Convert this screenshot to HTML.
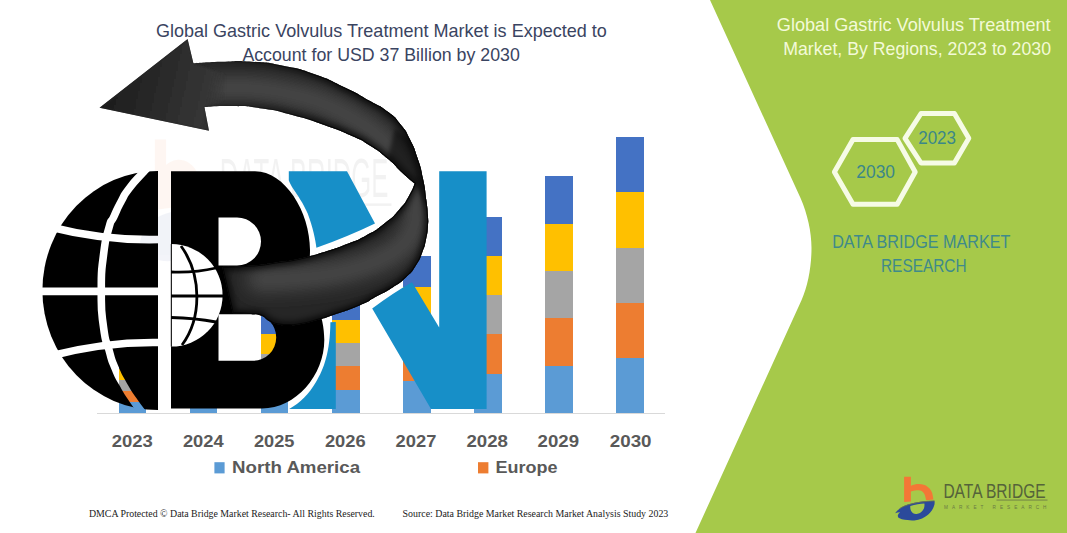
<!DOCTYPE html>
<html lang="en">
<head>
<meta charset="utf-8">
<title>Global Gastric Volvulus Treatment Market</title>
<style>
  html, body { margin: 0; padding: 0; background: #ffffff; }
  body { width: 1067px; height: 533px; overflow: hidden; position: relative; }
  svg { position: absolute; left: 0; top: 0; display: block; }
  .sans { font-family: "Liberation Sans", sans-serif; }
  .serif { font-family: "Liberation Serif", serif; }
</style>
</head>
<body>
<svg width="1067" height="533" viewBox="0 0 1067 533">
  <defs>
    <linearGradient id="arrowGrad" x1="0" y1="0" x2="1" y2="1">
      <stop offset="0" stop-color="#111"/>
      <stop offset="0.5" stop-color="#3c3c3c"/>
      <stop offset="1" stop-color="#0a0a0a"/>
    </linearGradient>
  </defs>

  <!-- ============ GREEN PANEL ============ -->
  <g id="panel">
    <path d="M710,0 L800.5,198 C807.5,214 811.5,232 811.5,248 C811.5,266 808,286 801.6,300 L695.5,533 L1067,533 L1067,0 Z" fill="#a6c94a"/>
  </g>

  <!-- ============ CHART BARS ============ -->
  <g id="bars" shape-rendering="crispEdges">
    <!-- 2023 -->
    <rect x="118.5" y="401.5" width="27.7" height="11.3" fill="#5b9bd5"/>
    <rect x="118.5" y="390.5" width="27.7" height="11.3" fill="#ed7d31"/>
    <rect x="118.5" y="379.5" width="27.7" height="11.3" fill="#a5a5a5"/>
    <rect x="118.5" y="368.5" width="27.7" height="11.3" fill="#ffc000"/>
    <rect x="118.5" y="357.5" width="27.7" height="11.3" fill="#4472c4"/>
    <!-- 2024 -->
    <rect x="189.6" y="397.3" width="27.7" height="15.5" fill="#5b9bd5"/>
    <rect x="189.6" y="382.1" width="27.7" height="15.5" fill="#ed7d31"/>
    <rect x="189.6" y="366.9" width="27.7" height="15.5" fill="#a5a5a5"/>
    <rect x="189.6" y="351.7" width="27.7" height="15.5" fill="#ffc000"/>
    <rect x="189.6" y="336.5" width="27.7" height="15.5" fill="#4472c4"/>
    <!-- 2025 -->
    <rect x="260.7" y="392.9" width="27.7" height="19.9" fill="#5b9bd5"/>
    <rect x="260.7" y="373.3" width="27.7" height="19.9" fill="#ed7d31"/>
    <rect x="260.7" y="353.7" width="27.7" height="19.9" fill="#a5a5a5"/>
    <rect x="260.7" y="334.1" width="27.7" height="19.9" fill="#ffc000"/>
    <rect x="260.7" y="314.5" width="27.7" height="19.9" fill="#4472c4"/>
    <!-- 2026 -->
    <rect x="331.8" y="389.3" width="27.7" height="23.5" fill="#5b9bd5"/>
    <rect x="331.8" y="366.1" width="27.7" height="23.5" fill="#ed7d31"/>
    <rect x="331.8" y="342.9" width="27.7" height="23.5" fill="#a5a5a5"/>
    <rect x="331.8" y="319.7" width="27.7" height="23.5" fill="#ffc000"/>
    <rect x="331.8" y="296.5" width="27.7" height="23.5" fill="#4472c4"/>
    <!-- 2027 -->
    <rect x="402.9" y="381.1" width="27.7" height="31.7" fill="#5b9bd5"/>
    <rect x="402.9" y="349.7" width="27.7" height="31.7" fill="#ed7d31"/>
    <rect x="402.9" y="318.3" width="27.7" height="31.7" fill="#a5a5a5"/>
    <rect x="402.9" y="286.9" width="27.7" height="31.7" fill="#ffc000"/>
    <rect x="402.9" y="255.5" width="27.7" height="31.7" fill="#4472c4"/>
    <!-- 2028 -->
    <rect x="474.0" y="373.3" width="27.7" height="39.5" fill="#5b9bd5"/>
    <rect x="474.0" y="334.1" width="27.7" height="39.5" fill="#ed7d31"/>
    <rect x="474.0" y="294.9" width="27.7" height="39.5" fill="#a5a5a5"/>
    <rect x="474.0" y="255.7" width="27.7" height="39.5" fill="#ffc000"/>
    <rect x="474.0" y="216.5" width="27.7" height="39.5" fill="#4472c4"/>
    <!-- 2029 -->
    <rect x="545.1" y="365.2" width="27.7" height="47.6" fill="#5b9bd5"/>
    <rect x="545.1" y="317.9" width="27.7" height="47.6" fill="#ed7d31"/>
    <rect x="545.1" y="270.6" width="27.7" height="47.6" fill="#a5a5a5"/>
    <rect x="545.1" y="223.3" width="27.7" height="47.6" fill="#ffc000"/>
    <rect x="545.1" y="176.0" width="27.7" height="47.6" fill="#4472c4"/>
    <!-- 2030 -->
    <rect x="616.2" y="357.4" width="27.7" height="55.4" fill="#5b9bd5"/>
    <rect x="616.2" y="302.3" width="27.7" height="55.4" fill="#ed7d31"/>
    <rect x="616.2" y="247.2" width="27.7" height="55.4" fill="#a5a5a5"/>
    <rect x="616.2" y="192.1" width="27.7" height="55.4" fill="#ffc000"/>
    <rect x="616.2" y="137.0" width="27.7" height="55.4" fill="#4472c4"/>
    <!-- axis -->
    <rect x="97" y="412.5" width="568" height="1" fill="#d9d9d9"/>
  </g>

  <!-- ============ WATERMARK (faint brand) ============ -->
  <g id="watermark" opacity="0.06" transform="translate(-1336.9,-1195.5) scale(1.65,2.8)">
    <path d="M904.1,476.8 L910.9,476.8 L910.9,485.8 C914,484.4 916.5,484 918.8,484 C927,484 932.8,489.5 932.8,496 L933,499.6 L904.1,502 Z" fill="#f37736"/>
    <path d="M895,513.3 C897,508.5 903,504.8 910,503.4 C918,501.8 927,501 934.5,501 C935,506 933,510 930,512.8 C927.5,515.6 925,517.4 922,518.4 C917,520.3 912,520.6 907.5,520 C903.5,519.6 900.5,519 898.5,518.4 Z" fill="#2b4a9b"/>
    <text x="943.4" y="497.4" textLength="102.2" lengthAdjust="spacingAndGlyphs" font-family="'Liberation Sans', sans-serif" font-size="19.5" fill="#333">DATA BRIDGE</text>
    <rect x="996.5" y="499.6" width="51" height="0.9" fill="#333"/>
  </g>

  <!-- ============ LOGO OVERLAY ============ -->
  <g id="logo">
    <defs>
      <linearGradient id="fadeIn" gradientUnits="userSpaceOnUse" x1="200" y1="0" x2="340" y2="0"><stop offset="0" stop-color="#000"/><stop offset="1" stop-color="#fff"/></linearGradient>
      <mask id="noHead" maskUnits="userSpaceOnUse" x="0" y="0" width="1067" height="533"><rect x="0" y="0" width="1067" height="533" fill="#000"/><rect x="200" y="0" width="400" height="200" fill="url(#fadeIn)"/><rect x="200" y="200" width="400" height="333" fill="#fff"/></mask>
      <linearGradient id="headGrad" gradientUnits="userSpaceOnUse" x1="120" y1="75" x2="228" y2="100"><stop offset="0" stop-color="#1f1f1f"/><stop offset="0.8" stop-color="#353535"/><stop offset="1" stop-color="#353535" stop-opacity="0"/></linearGradient>
      <clipPath id="arrowClip"><path d="M99.5,107.7 L187.6,38.9 L193.4,63.2 C201.7,62.8 201.5,62.2 221.0,61.7 C240.5,61.2 231.3,60.3 252.0,61.7 C272.7,63.1 262.4,61.7 283.0,65.8 C303.6,69.9 293.3,66.8 313.9,74.0 C334.5,81.2 326.4,78.7 344.8,87.5 C363.2,96.3 354.8,92.5 369.0,100.5 C383.2,108.5 377.0,103.5 387.5,111.5 C398.0,119.5 393.1,115.1 400.6,124.4 C408.1,133.7 404.4,128.2 410.0,139.4 C415.6,150.6 413.2,144.9 417.5,158.0 C421.8,171.1 420.1,164.8 423.0,178.8 C425.9,192.8 424.7,187.9 426.3,200.0 C427.9,212.1 427.4,206.2 427.9,215.0 C428.4,223.8 428.5,218.2 427.9,226.3 C427.3,234.4 427.9,230.7 426.0,239.4 C424.1,248.1 425.6,243.7 422.2,252.5 C418.8,261.3 421.0,257.5 415.7,265.7 C410.4,273.9 413.9,269.8 406.3,277.0 C398.7,284.2 403.0,280.7 393.0,287.2 C383.0,293.7 387.5,290.5 376.3,296.6 C365.1,302.7 374.1,299.3 359.5,305.5 C344.9,311.7 345.4,310.8 332.5,315.2 C319.6,319.8 331.6,316.0 320.8,319.0 C309.9,322.0 311.0,322.3 300.0,324.3 C289.0,326.3 295.2,325.1 287.7,325.1 C280.2,325.1 283.7,325.7 277.5,324.3 C271.3,322.9 274.6,324.0 269.0,321.0 C263.4,318.0 267.0,317.6 260.7,315.3 C254.4,313.0 259.3,314.7 250.0,314.0 C240.7,313.3 238.0,313.5 232.8,313.3 L222.2,266.9 C231.2,266.5 233.8,267.1 252.2,265.5 C270.6,263.9 261.6,264.5 277.5,262.2 C293.4,259.9 283.2,262.3 300.0,258.5 C316.8,254.7 312.3,255.5 328.0,250.7 C343.7,245.9 334.4,249.0 347.0,244.0 C359.6,239.0 353.2,242.5 365.7,235.7 C378.2,228.9 373.2,232.3 384.4,223.5 C395.6,214.7 391.3,218.5 399.4,209.4 C407.5,200.3 403.7,204.9 408.8,196.3 C413.9,187.7 413.0,187.4 414.8,183.6 C411.1,180.4 411.6,181.4 402.5,173.0 C393.4,164.6 398.7,167.8 387.5,158.5 C376.3,149.2 380.8,152.5 369.0,145.0 C357.2,137.5 366.9,142.7 352.0,136.0 C337.1,129.3 343.8,131.9 324.2,125.0 C304.6,118.1 313.8,120.8 293.2,115.3 C272.6,109.8 282.9,111.6 262.3,108.5 C241.7,105.4 250.6,106.5 231.3,106.0 C212.0,105.5 212.5,106.7 204.4,107.0 L209.0,130.7 L99.5,107.7 Z"/></clipPath>
      <filter id="blur8" x="-20%" y="-20%" width="140%" height="140%"><feGaussianBlur stdDeviation="9"/></filter>
      <filter id="blur1" x="-20%" y="-20%" width="140%" height="140%"><feGaussianBlur stdDeviation="1.2"/></filter>
      <filter id="blur2" x="-30%" y="-30%" width="160%" height="160%"><feGaussianBlur stdDeviation="2"/></filter>
      <filter id="blur3" x="-20%" y="-20%" width="140%" height="140%"><feGaussianBlur stdDeviation="3"/></filter>
      <mask id="globeMask" maskUnits="userSpaceOnUse" x="0" y="0" width="1067" height="533">
        <rect x="0" y="0" width="158" height="533" fill="#fff"/>
        <g fill="none" stroke="#000" stroke-width="7.6">
          <path d="M30,291.4 L160,291.4"/>
          <path d="M50,227 Q105,241 160,239.5"/>
          <path d="M50,356 Q105,341.5 160,342.5"/>
          <path d="M148.0,167.5 C146.1,169.5 148.4,166.6 142.2,173.5 C136.0,180.4 136.2,179.0 129.3,188.2 C122.4,197.4 126.5,191.6 121.4,201.0 C116.3,210.4 118.2,207.2 114.0,216.3 C109.8,225.4 112.3,215.4 108.8,228.3 C105.3,241.2 106.0,234.1 103.5,255.0 C101.0,275.9 101.3,267.0 101.3,291.0 C101.3,315.0 100.9,307.3 103.5,327.0 C106.1,346.7 105.2,336.3 109.0,350.0 C112.8,363.7 110.3,356.7 115.0,368.0 C119.7,379.3 117.0,373.3 123.0,384.0 C129.0,394.7 126.2,390.0 133.0,400.0 C139.8,410.0 140.0,409.3 143.5,414.0" stroke-width="7.6"/>
        </g>
      </mask>
    </defs>
    <!-- N -->
    <path d="M288.8,171.3 L347,171.3 L375,223.5 Q347,237 316.4,247.8 C315.5,240 313,228 307.7,213.6 C304,205 300,199 297.4,195 C293,189 290,184 288.8,180.6 Z M330.4,322.3 L335.8,322 L335.8,409 L289.2,409 C300,403 309,394 316,382 C324,369 330,352 330.4,322.3 Z M372.2,308.5 Q392,293.5 412,282.2 L439.2,327.5 L439.2,171.2 L486.6,171.2 L486.6,409 L431,409 Z" fill="#178fc8"/>
    <!-- half globe -->
    <ellipse cx="158" cy="290.5" rx="115.6" ry="119.5" fill="#000" mask="url(#globeMask)"/>
    <!-- B -->
    <path d="M171,171.3 L255,171.3 C285,171.3 310,212 310,250 C310,268 306,280 300,287 C314,293 324.3,315 324.3,340 C324.3,375 296,408.5 262,408.5 L171,408.5 Z M218.5,217.5 L237,217.5 A24,24 0 0 1 237,265.5 L218.5,265.5 Z M218.5,314.3 L253,314.3 A23.2,23.2 0 0 1 253,360.7 L218.5,360.7 Z" fill="#000" fill-rule="evenodd"/>
    <!-- small globe -->
    <g>
      <path d="M171.3,244 A51.3,51.3 0 0 1 171.3,346.6 Z" fill="#fff"/>
      <g fill="none" stroke="#000" stroke-width="2.8">
        <path d="M171,296 L224,296"/>
        <path d="M171,272 Q195,273 216,268"/>
        <path d="M171,317.5 Q195,318 216,322"/>
        <path d="M181,246 C202,275 202,318 182,345"/>
        <path d="M171.3,244 L171.3,346.6" stroke-width="1"/>
      </g>
    </g>
    <!-- arrow -->
    <path d="M99.5,107.7 L187.6,38.9 L193.4,63.2 C201.7,62.8 201.5,62.2 221.0,61.7 C240.5,61.2 231.3,60.3 252.0,61.7 C272.7,63.1 262.4,61.7 283.0,65.8 C303.6,69.9 293.3,66.8 313.9,74.0 C334.5,81.2 326.4,78.7 344.8,87.5 C363.2,96.3 354.8,92.5 369.0,100.5 C383.2,108.5 377.0,103.5 387.5,111.5 C398.0,119.5 393.1,115.1 400.6,124.4 C408.1,133.7 404.4,128.2 410.0,139.4 C415.6,150.6 413.2,144.9 417.5,158.0 C421.8,171.1 420.1,164.8 423.0,178.8 C425.9,192.8 424.7,187.9 426.3,200.0 C427.9,212.1 427.4,206.2 427.9,215.0 C428.4,223.8 428.5,218.2 427.9,226.3 C427.3,234.4 427.9,230.7 426.0,239.4 C424.1,248.1 425.6,243.7 422.2,252.5 C418.8,261.3 421.0,257.5 415.7,265.7 C410.4,273.9 413.9,269.8 406.3,277.0 C398.7,284.2 403.0,280.7 393.0,287.2 C383.0,293.7 387.5,290.5 376.3,296.6 C365.1,302.7 374.1,299.3 359.5,305.5 C344.9,311.7 345.4,310.8 332.5,315.2 C319.6,319.8 331.6,316.0 320.8,319.0 C309.9,322.0 311.0,322.3 300.0,324.3 C289.0,326.3 295.2,325.1 287.7,325.1 C280.2,325.1 283.7,325.7 277.5,324.3 C271.3,322.9 274.6,324.0 269.0,321.0 C263.4,318.0 267.0,317.6 260.7,315.3 C254.4,313.0 259.3,314.7 250.0,314.0 C240.7,313.3 238.0,313.5 232.8,313.3 L222.2,266.9 C231.2,266.5 233.8,267.1 252.2,265.5 C270.6,263.9 261.6,264.5 277.5,262.2 C293.4,259.9 283.2,262.3 300.0,258.5 C316.8,254.7 312.3,255.5 328.0,250.7 C343.7,245.9 334.4,249.0 347.0,244.0 C359.6,239.0 353.2,242.5 365.7,235.7 C378.2,228.9 373.2,232.3 384.4,223.5 C395.6,214.7 391.3,218.5 399.4,209.4 C407.5,200.3 403.7,204.9 408.8,196.3 C413.9,187.7 413.0,187.4 414.8,183.6 C411.1,180.4 411.6,181.4 402.5,173.0 C393.4,164.6 398.7,167.8 387.5,158.5 C376.3,149.2 380.8,152.5 369.0,145.0 C357.2,137.5 366.9,142.7 352.0,136.0 C337.1,129.3 343.8,131.9 324.2,125.0 C304.6,118.1 313.8,120.8 293.2,115.3 C272.6,109.8 282.9,111.6 262.3,108.5 C241.7,105.4 250.6,106.5 231.3,106.0 C212.0,105.5 212.5,106.7 204.4,107.0 L209.0,130.7 L99.5,107.7 Z" fill="#262626"/>
    <g clip-path="url(#arrowClip)">
      <path d="M205.0,88.0 C213.3,88.0 212.0,87.7 230.0,88.0 C248.0,88.3 236.3,86.3 259.0,89.0 C281.7,91.7 275.7,90.7 298.0,96.0 C320.3,101.3 307.3,97.3 326.0,105.0 C344.7,112.7 336.0,108.3 354.0,119.0 C372.0,129.7 365.7,125.0 380.0,137.0 C394.3,149.0 387.3,142.7 397.0,155.0 C406.7,167.3 402.7,160.3 409.0,174.0 C415.3,187.7 413.7,180.7 416.0,196.0 C418.3,211.3 418.3,206.0 416.0,220.0 C413.7,234.0 415.7,227.7 409.0,238.0 C402.3,248.3 406.7,243.3 396.0,251.0 C385.3,258.7 391.3,255.0 377.0,261.0 C362.7,267.0 368.7,264.7 353.0,269.0 C337.3,273.3 345.7,271.3 330.0,274.0 C314.3,276.7 322.7,275.3 306.0,277.0 C289.3,278.7 296.0,278.0 280.0,279.0 C264.0,280.0 265.3,279.7 258.0,280.0" fill="none" stroke="#494949" stroke-width="24" stroke-linecap="round" stroke-linejoin="round" filter="url(#blur8)"/>
      <path d="M395,128 L410,139.4 L417.5,158 L423,178.8 L426.3,200 L428.5,214 C424,202 420,192 414.8,183.6 L402.5,173 L387.5,158.5 Z" fill="#000" opacity="0.5" filter="url(#blur2)"/>
      <path d="M99.5,107.7 L187.6,38.9 L193.4,63.2 C201.7,62.8 201.5,62.2 221.0,61.7 C240.5,61.2 231.3,60.3 252.0,61.7 C272.7,63.1 262.4,61.7 283.0,65.8 C303.6,69.9 293.3,66.8 313.9,74.0 C334.5,81.2 326.4,78.7 344.8,87.5 C363.2,96.3 354.8,92.5 369.0,100.5 C383.2,108.5 377.0,103.5 387.5,111.5 C398.0,119.5 393.1,115.1 400.6,124.4 C408.1,133.7 404.4,128.2 410.0,139.4 C415.6,150.6 413.2,144.9 417.5,158.0 C421.8,171.1 420.1,164.8 423.0,178.8 C425.9,192.8 424.7,187.9 426.3,200.0 C427.9,212.1 427.4,206.2 427.9,215.0 C428.4,223.8 428.5,218.2 427.9,226.3 C427.3,234.4 427.9,230.7 426.0,239.4 C424.1,248.1 425.6,243.7 422.2,252.5 C418.8,261.3 421.0,257.5 415.7,265.7 C410.4,273.9 413.9,269.8 406.3,277.0 C398.7,284.2 403.0,280.7 393.0,287.2 C383.0,293.7 387.5,290.5 376.3,296.6 C365.1,302.7 374.1,299.3 359.5,305.5 C344.9,311.7 345.4,310.8 332.5,315.2 C319.6,319.8 331.6,316.0 320.8,319.0 C309.9,322.0 311.0,322.3 300.0,324.3 C289.0,326.3 295.2,325.1 287.7,325.1 C280.2,325.1 283.7,325.7 277.5,324.3 C271.3,322.9 274.6,324.0 269.0,321.0 C263.4,318.0 267.0,317.6 260.7,315.3 C254.4,313.0 259.3,314.7 250.0,314.0 C240.7,313.3 238.0,313.5 232.8,313.3 L222.2,266.9 C231.2,266.5 233.8,267.1 252.2,265.5 C270.6,263.9 261.6,264.5 277.5,262.2 C293.4,259.9 283.2,262.3 300.0,258.5 C316.8,254.7 312.3,255.5 328.0,250.7 C343.7,245.9 334.4,249.0 347.0,244.0 C359.6,239.0 353.2,242.5 365.7,235.7 C378.2,228.9 373.2,232.3 384.4,223.5 C395.6,214.7 391.3,218.5 399.4,209.4 C407.5,200.3 403.7,204.9 408.8,196.3 C413.9,187.7 413.0,187.4 414.8,183.6 C411.1,180.4 411.6,181.4 402.5,173.0 C393.4,164.6 398.7,167.8 387.5,158.5 C376.3,149.2 380.8,152.5 369.0,145.0 C357.2,137.5 366.9,142.7 352.0,136.0 C337.1,129.3 343.8,131.9 324.2,125.0 C304.6,118.1 313.8,120.8 293.2,115.3 C272.6,109.8 282.9,111.6 262.3,108.5 C241.7,105.4 250.6,106.5 231.3,106.0 C212.0,105.5 212.5,106.7 204.4,107.0 L209.0,130.7 L99.5,107.7 Z" fill="none" stroke="#0b0b0b" stroke-width="2.2" mask="url(#noHead)"/>
      <g mask="url(#noHead)"><path d="M99.5,107.7 L187.6,38.9 L193.4,63.2 C201.7,62.8 201.5,62.2 221.0,61.7 C240.5,61.2 231.3,60.3 252.0,61.7 C272.7,63.1 262.4,61.7 283.0,65.8 C303.6,69.9 293.3,66.8 313.9,74.0 C334.5,81.2 326.4,78.7 344.8,87.5 C363.2,96.3 354.8,92.5 369.0,100.5 C383.2,108.5 377.0,103.5 387.5,111.5 C398.0,119.5 393.1,115.1 400.6,124.4 C408.1,133.7 404.4,128.2 410.0,139.4 C415.6,150.6 413.2,144.9 417.5,158.0 C421.8,171.1 420.1,164.8 423.0,178.8 C425.9,192.8 424.7,187.9 426.3,200.0 C427.9,212.1 427.4,206.2 427.9,215.0 C428.4,223.8 428.5,218.2 427.9,226.3 C427.3,234.4 427.9,230.7 426.0,239.4 C424.1,248.1 425.6,243.7 422.2,252.5 C418.8,261.3 421.0,257.5 415.7,265.7 C410.4,273.9 413.9,269.8 406.3,277.0 C398.7,284.2 403.0,280.7 393.0,287.2 C383.0,293.7 387.5,290.5 376.3,296.6 C365.1,302.7 374.1,299.3 359.5,305.5 C344.9,311.7 345.4,310.8 332.5,315.2 C319.6,319.8 331.6,316.0 320.8,319.0 C309.9,322.0 311.0,322.3 300.0,324.3 C289.0,326.3 295.2,325.1 287.7,325.1 C280.2,325.1 283.7,325.7 277.5,324.3 C271.3,322.9 274.6,324.0 269.0,321.0 C263.4,318.0 267.0,317.6 260.7,315.3 C254.4,313.0 259.3,314.7 250.0,314.0 C240.7,313.3 238.0,313.5 232.8,313.3 L222.2,266.9 C231.2,266.5 233.8,267.1 252.2,265.5 C270.6,263.9 261.6,264.5 277.5,262.2 C293.4,259.9 283.2,262.3 300.0,258.5 C316.8,254.7 312.3,255.5 328.0,250.7 C343.7,245.9 334.4,249.0 347.0,244.0 C359.6,239.0 353.2,242.5 365.7,235.7 C378.2,228.9 373.2,232.3 384.4,223.5 C395.6,214.7 391.3,218.5 399.4,209.4 C407.5,200.3 403.7,204.9 408.8,196.3 C413.9,187.7 413.0,187.4 414.8,183.6 C411.1,180.4 411.6,181.4 402.5,173.0 C393.4,164.6 398.7,167.8 387.5,158.5 C376.3,149.2 380.8,152.5 369.0,145.0 C357.2,137.5 366.9,142.7 352.0,136.0 C337.1,129.3 343.8,131.9 324.2,125.0 C304.6,118.1 313.8,120.8 293.2,115.3 C272.6,109.8 282.9,111.6 262.3,108.5 C241.7,105.4 250.6,106.5 231.3,106.0 C212.0,105.5 212.5,106.7 204.4,107.0 L209.0,130.7 L99.5,107.7 Z" fill="none" stroke="#000" stroke-width="6" filter="url(#blur3)" opacity="0.85"/></g>
      <path d="M99.5,107.7 L187.6,38.9 L193.4,63.2 L225,75 L225,100 L204.4,107 L209,130.7 Z" fill="url(#headGrad)" filter="url(#blur1)"/>
    </g>
  </g>

  <!-- ============ TEXT ============ -->
  <g id="text">
    <!-- title -->
    <g class="sans" font-family="'Liberation Sans', sans-serif" font-size="17.8" fill="#3a4461">
      <text x="155.9" y="36.8" textLength="451" lengthAdjust="spacingAndGlyphs">Global Gastric Volvulus Treatment Market is Expected to</text>
      <text x="242.4" y="60.7" textLength="277.4" lengthAdjust="spacingAndGlyphs">Account for USD 37 Billion by 2030</text>
    </g>
    <!-- year labels -->
    <g font-family="'Liberation Sans', sans-serif" font-size="17" font-weight="bold" fill="#595959">
      <text x="111.8" y="446.8" textLength="41.1" lengthAdjust="spacingAndGlyphs">2023</text>
      <text x="182.9" y="446.8" textLength="40.8" lengthAdjust="spacingAndGlyphs">2024</text>
      <text x="254.0" y="446.8" textLength="40.5" lengthAdjust="spacingAndGlyphs">2025</text>
      <text x="324.9" y="446.8" textLength="40.8" lengthAdjust="spacingAndGlyphs">2026</text>
      <text x="395.6" y="446.8" textLength="40.8" lengthAdjust="spacingAndGlyphs">2027</text>
      <text x="466.5" y="446.8" textLength="41.5" lengthAdjust="spacingAndGlyphs">2028</text>
      <text x="537.6" y="446.8" textLength="41.4" lengthAdjust="spacingAndGlyphs">2029</text>
      <text x="609.8" y="446.8" textLength="41.7" lengthAdjust="spacingAndGlyphs">2030</text>
    </g>
    <!-- legend -->
    <rect x="214.4" y="462.2" width="10.2" height="11.2" fill="#5b9bd5"/>
    <rect x="478" y="462.2" width="10.4" height="11.2" fill="#ed7d31"/>
    <g font-family="'Liberation Sans', sans-serif" font-size="16.5" font-weight="bold" fill="#595959">
      <text x="232.1" y="472.6" textLength="128" lengthAdjust="spacingAndGlyphs">North America</text>
      <text x="495.4" y="472.6" textLength="62" lengthAdjust="spacingAndGlyphs">Europe</text>
    </g>
    <!-- footer -->
    <g font-family="'Liberation Serif', serif" font-size="9.5" fill="#1a1a1a">
      <text x="89" y="517.4" textLength="285.8" lengthAdjust="spacingAndGlyphs">DMCA Protected © Data Bridge Market Research- All Rights Reserved.</text>
      <text x="402.6" y="517.4" textLength="265.7" lengthAdjust="spacingAndGlyphs">Source: Data Bridge Market Research Market Analysis Study 2023</text>
    </g>
    <!-- right panel heading -->
    <g font-family="'Liberation Sans', sans-serif" font-size="17.8" fill="#f3fad8">
      <text x="776.8" y="30.5" textLength="273.8" lengthAdjust="spacingAndGlyphs">Global Gastric Volvulus Treatment</text>
      <text x="783.2" y="55" textLength="267.8" lengthAdjust="spacingAndGlyphs">Market, By Regions, 2023 to 2030</text>
    </g>
    <!-- hexagons -->
    <g fill="#a6c94a" stroke="#f6fbe6" stroke-width="5" stroke-linejoin="round">
      <polygon points="834.4,172 853,139.6 897.2,139.6 915.2,172 897.2,204.3 853,204.3"/>
      <polygon points="905,138.3 921,113.5 954.4,113.5 968.8,138.3 954.4,163 921,163"/>
    </g>
    <g font-family="'Liberation Sans', sans-serif" font-size="18.3" fill="#3b8789">
      <text x="856.3" y="177.8" textLength="38.7" lengthAdjust="spacingAndGlyphs">2030</text>
      <text x="918.2" y="144" textLength="37.8" lengthAdjust="spacingAndGlyphs">2023</text>
    </g>
    <g font-family="'Liberation Sans', sans-serif" font-size="17.6" fill="#3f8a8a">
      <text x="832.2" y="247.6" textLength="178.3" lengthAdjust="spacingAndGlyphs">DATA BRIDGE MARKET</text>
      <text x="881" y="271.6" textLength="85.6" lengthAdjust="spacingAndGlyphs">RESEARCH</text>
    </g>
    <!-- brand logo -->
    <g id="brand">
      <path d="M904.1,476.8 L910.9,476.8 L910.9,485.8 C913.4,484.6 916,484.1 918.8,484.1 C922.3,484.1 925.4,485.1 927.8,486.9 C930.8,489.1 932.4,492.2 932.8,495.9 L933.4,499.5 L926.1,500.2 L925.5,497.6 C925.2,495.6 924.5,493.8 923.3,492.5 C922.1,491.1 920.6,490.3 918.8,490.3 C916,490.3 913.2,490.7 910.9,491.4 L910.9,501.4 L904.1,502.1 Z" fill="#f37736"/>
      <path d="M895.1,513.3 C896.3,511.4 897.8,509.9 899.6,508.8 C901,507.7 902.5,506.8 904.1,506 C906.2,505.1 908.5,504.4 910.9,503.8 C913.5,503.1 916.1,502.5 918.8,502.1 C921.4,501.7 924.1,501.4 926.7,501.2 C929.3,501 931.9,500.9 934.5,501 C934.8,502.8 934.6,504.5 934,506 C933.2,508.6 931.8,510.9 930,512.8 C927.8,515.2 925.1,517.1 922.1,518.4 C919.6,519.5 917,520.2 914.3,520.4 C912,520.6 909.7,520.5 907.5,520.1 C905.6,519.9 903.7,519.6 901.9,519.3 C900.7,518.9 899.5,518.4 898.5,517.8 C897.8,516.9 897.7,515.9 897.9,515 C898.3,513.8 899.1,512.9 900.2,512.2 C898.4,512.3 896.7,512.6 895.1,513.3 Z M910.3,506 C910.2,507.6 910.3,509.1 910.9,510.5 C911.4,511.7 912.1,512.7 913.1,513.3 C914.5,514 916.1,514.1 917.6,513.7 C918.9,513.4 920,512.9 921,512.2 C922.3,511.3 923.2,510.1 923.8,508.8 C924.5,507.1 924.6,505.3 924.4,503.5 C922.1,503.6 919.8,503.9 917.6,504.3 C915.1,504.7 912.7,505.3 910.3,506 Z" fill="#2b4a9b" fill-rule="evenodd"/>
      <path d="M899.6,508.6 C905,505 915,502 934.5,500.8" fill="none" stroke="#6a6f52" stroke-width="0.9"/>
      <text x="943.4" y="498" textLength="102.2" lengthAdjust="spacingAndGlyphs" font-family="'Liberation Sans', sans-serif" font-size="19.8" fill="#55633a">DATA BRIDGE</text>
      <rect x="996.5" y="499.6" width="51" height="0.9" fill="#6d7d45"/>
      <text x="944" y="508.9" textLength="102.5" lengthAdjust="spacing" font-family="'Liberation Sans', sans-serif" font-size="4.7" fill="#6a7a44">MARKET  RESEARCH</text>
    </g>
  </g>
</svg>
</body>
</html>
